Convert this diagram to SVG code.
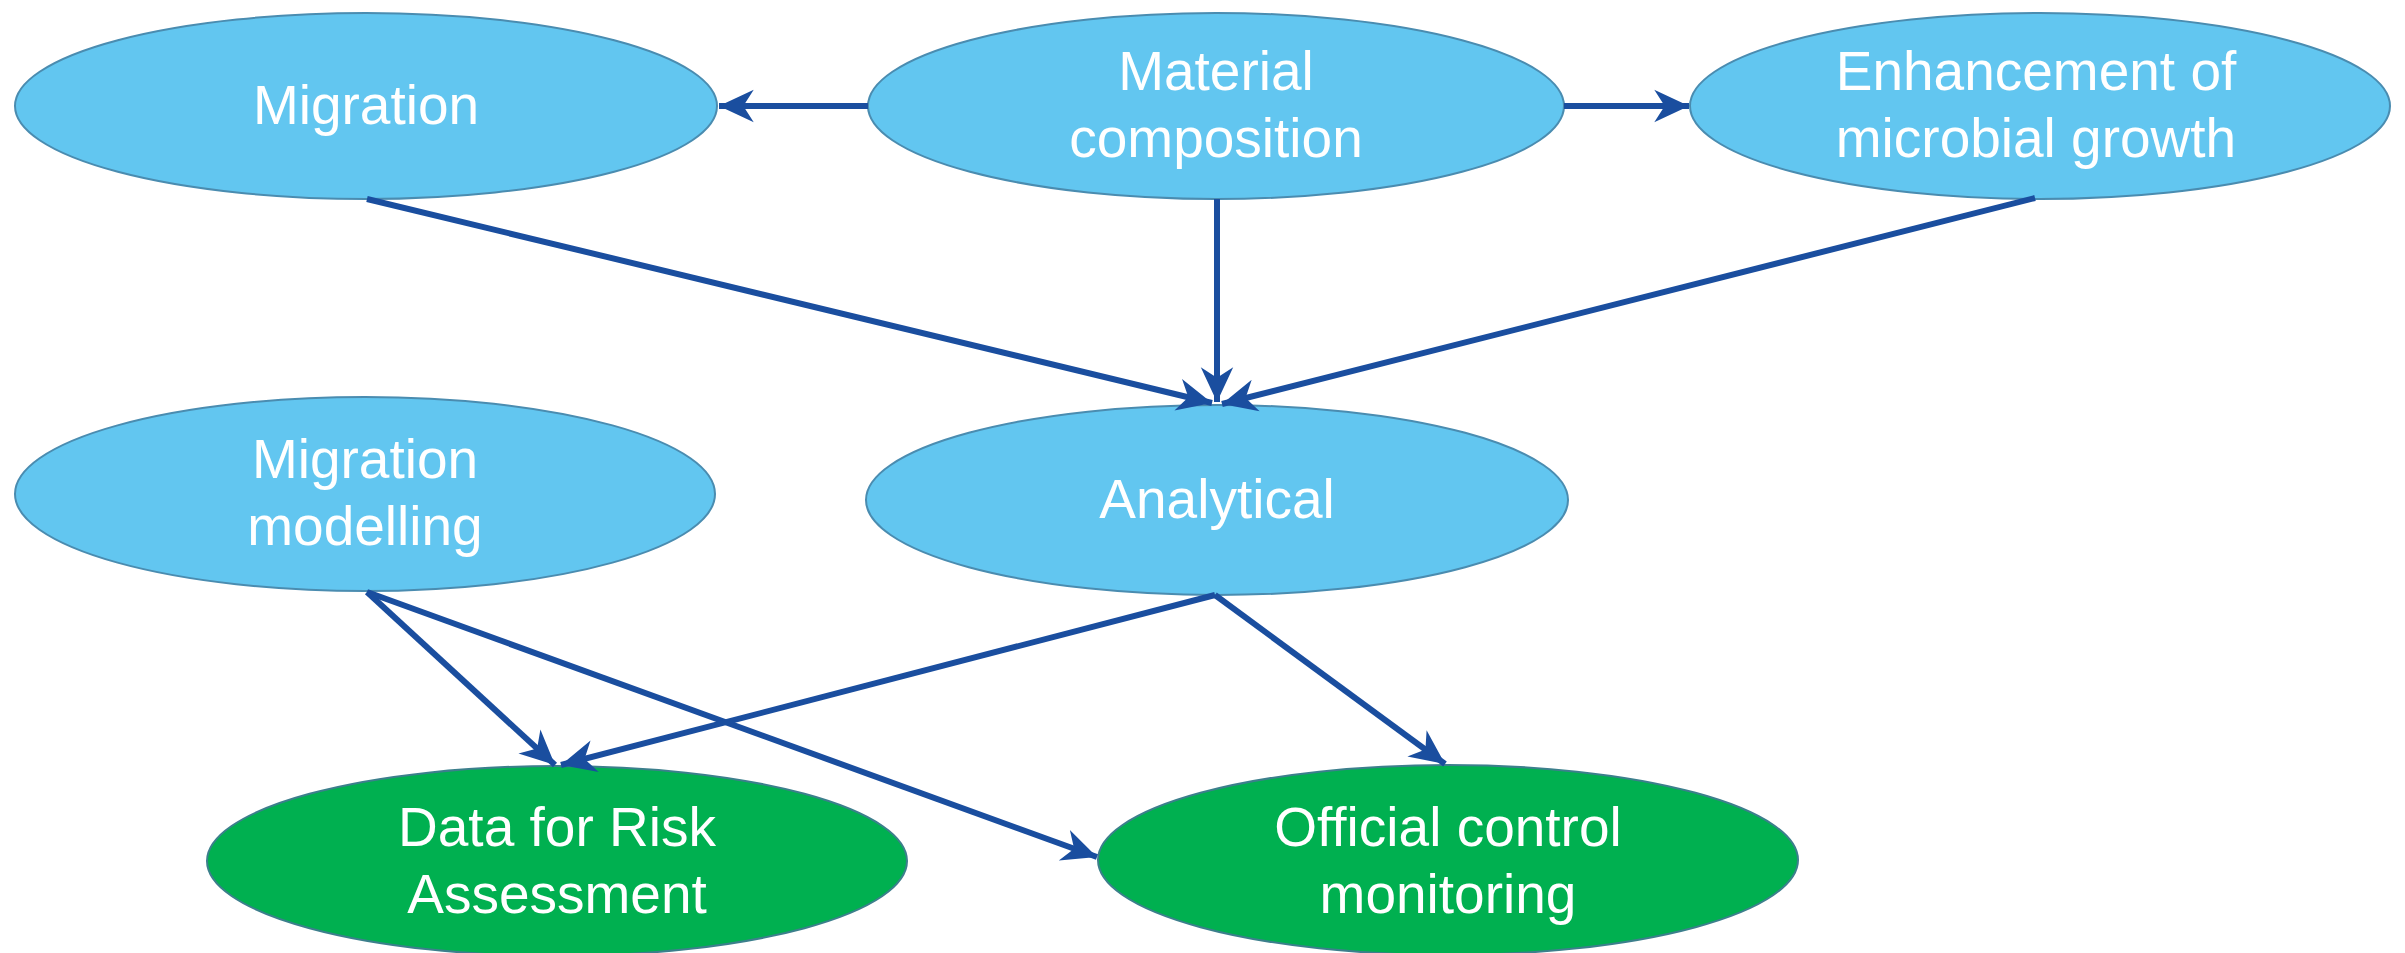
<svg xmlns="http://www.w3.org/2000/svg" width="2405" height="953" viewBox="0 0 2405 953">
<style>
.blue{fill:#62C6F0;stroke:#4A8CB0;stroke-width:2}
.green{fill:#00B050;stroke:#3C7F8C;stroke-width:2}
.lbl{font-family:"Liberation Sans",Arial,sans-serif;font-size:55px;fill:#FFFFFF;text-anchor:middle}
.edge{stroke:#1A4E9F;stroke-width:6;fill:none;marker-end:url(#arr)}
</style>
<defs>
<marker id="arr" markerUnits="userSpaceOnUse" markerWidth="44" markerHeight="44" viewBox="-34 -17 38 34" refX="0" refY="0" orient="auto">
<path d="M0,0 L-30,-14 L-21,0 L-30,14 Z" fill="#1A4E9F"/>
</marker>
</defs>
<rect width="2405" height="953" fill="#FFFFFF"/>
<g id="n-migration">
<ellipse class="blue" cx="366" cy="106" rx="351" ry="93"/>
<text class="lbl" x="366" y="124">Migration</text>
</g>
<g id="n-material">
<ellipse class="blue" cx="1216" cy="106" rx="348" ry="93"/>
<text class="lbl" x="1216" y="90">Material</text>
<text class="lbl" x="1216" y="157">composition</text>
</g>
<g id="n-enhancement">
<ellipse class="blue" cx="2040" cy="106" rx="350" ry="93"/>
<text class="lbl" x="2036" y="90">Enhancement of</text>
<text class="lbl" x="2036" y="157">microbial growth</text>
</g>
<g id="n-modelling">
<ellipse class="blue" cx="365" cy="494" rx="350" ry="97"/>
<text class="lbl" x="365" y="478">Migration</text>
<text class="lbl" x="365" y="545">modelling</text>
</g>
<g id="n-analytical">
<ellipse class="blue" cx="1217" cy="500" rx="351" ry="95"/>
<text class="lbl" x="1217" y="518">Analytical</text>
</g>
<g id="n-risk">
<ellipse class="green" cx="557" cy="861" rx="350" ry="95"/>
<text class="lbl" x="557" y="846">Data for Risk</text>
<text class="lbl" x="557" y="913">Assessment</text>
</g>
<g id="n-official">
<ellipse class="green" cx="1448" cy="860" rx="350" ry="95"/>
<text class="lbl" x="1448" y="846">Official control</text>
<text class="lbl" x="1448" y="913">monitoring</text>
</g>
<g id="connectors">
<line class="edge" x1="868" y1="106" x2="719" y2="106"/>
<line class="edge" x1="1564" y1="106" x2="1689" y2="106"/>
<line class="edge" x1="367" y1="199" x2="1212" y2="403"/>
<line class="edge" x1="1217" y1="199" x2="1217" y2="402"/>
<line class="edge" x1="2035" y1="198" x2="1222" y2="404"/>
<line class="edge" x1="367" y1="592" x2="555" y2="765"/>
<line class="edge" x1="367" y1="592" x2="1097" y2="857"/>
<line class="edge" x1="1215" y1="595" x2="561" y2="765"/>
<line class="edge" x1="1215" y1="595" x2="1445" y2="764"/>
</g>
</svg>
